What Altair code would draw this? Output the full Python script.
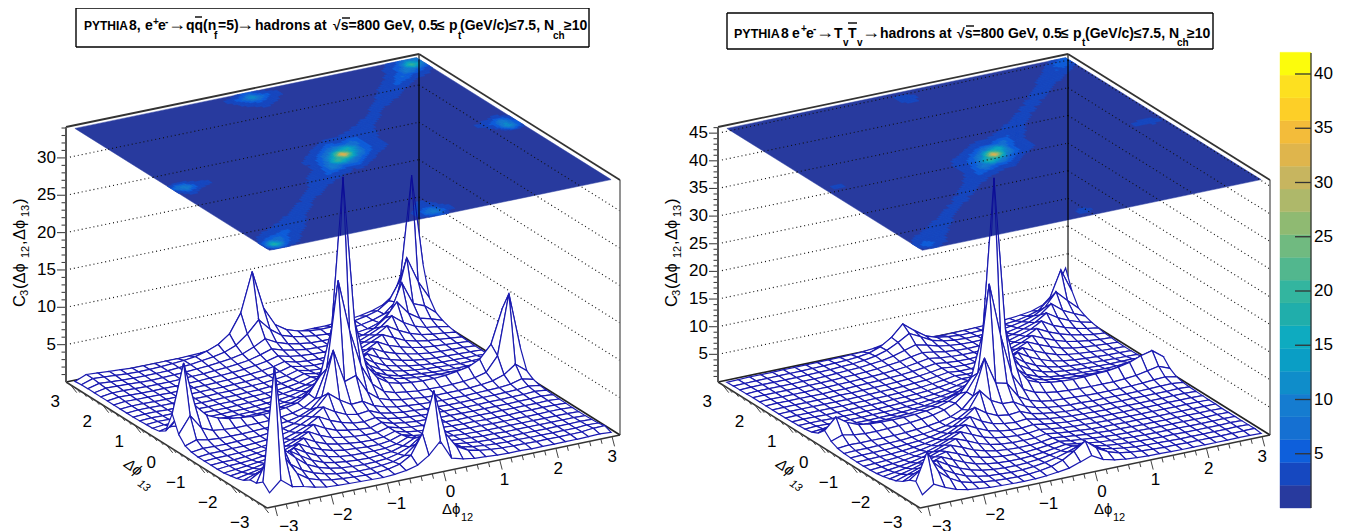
import math
import altair as alt

L_ROWS = [  # from phi13 index 30 (back) to 0 (front), phi12 index 0..30
[.2,.8,.7,.6,.5,.4,.4,.4,.4,.4,.45,.5,.7,1,1.9,4.5,2,1.1,.8,.7,.7,.7,.7,.8,.9,1.1,1.4,1.9,3,7,8],
[.3,.8,.7,.6,.5,.45,.45,.5,.6,.7,.9,1.3,1.9,3,5.5,10.7,5.5,3,2,1.5,1.2,1.1,1.1,1.1,1.3,1.6,2,3,5.5,19.2,7],
[.3,.7,.6,.5,.45,.45,.45,.5,.6,.7,.9,1.1,1.4,2,3.2,4.8,3.2,2.1,1.6,1.3,1.1,1,1,1.1,1.3,1.6,2.1,3.4,9,5.5,3],
[.3,.6,.55,.5,.45,.4,.45,.5,.55,.65,.75,.9,1.1,1.4,2,2.8,2,1.5,1.2,1,.95,.95,1,1.1,1.3,1.8,3,6.5,3.4,2.8,1.6],
[.3,.5,.5,.45,.4,.4,.4,.45,.5,.55,.65,.75,.9,1.1,1.5,2,1.5,1.2,1,.9,.9,.95,1.1,1.3,1.9,3,4.8,3,2,1.6,1.1],
[.3,.5,.45,.4,.4,.4,.4,.4,.45,.5,.55,.65,.75,.95,1.2,1.6,1.2,1,.9,.85,.9,1.1,1.3,1.9,2.6,3.8,2.6,1.8,1.3,1.1,.8],
[.3,.45,.4,.4,.4,.35,.4,.4,.4,.45,.5,.55,.65,.8,1,1.4,1,.85,.8,.85,1,1.3,1.8,2.4,3.3,2.4,1.7,1.2,.95,.8,.6],
[.3,.4,.4,.35,.35,.35,.35,.4,.4,.4,.45,.5,.6,.7,.9,1.3,.95,.8,.85,1,1.2,1.7,2.3,3,2.3,1.6,1.2,.95,.8,.65,.5],
[.3,.4,.4,.35,.35,.35,.35,.35,.4,.4,.45,.5,.55,.7,.9,1.3,.95,.85,.95,1.2,1.6,2.1,2.9,2.1,1.6,1.2,.9,.75,.65,.55,.45],
[.3,.4,.4,.35,.35,.35,.35,.35,.4,.4,.45,.5,.6,.7,.95,1.4,1.1,1,1.2,1.6,2.1,2.9,2.1,1.6,1.2,.9,.7,.6,.55,.5,.4],
[.35,.45,.4,.4,.35,.35,.35,.4,.4,.45,.5,.55,.65,.8,1.05,1.5,1.3,1.3,1.7,2.2,3,2.2,1.6,1.2,.9,.7,.6,.55,.5,.45,.4],
[.4,.5,.45,.4,.4,.4,.4,.4,.45,.5,.55,.6,.75,.95,1.3,1.8,1.7,1.9,2.5,3.4,2.4,1.7,1.3,1,.8,.65,.55,.55,.5,.5,.4],
[.45,.6,.55,.5,.5,.45,.45,.5,.5,.55,.65,.75,.95,1.3,1.8,2.6,2.7,3,4.2,2.9,2,1.5,1.2,1,.85,.75,.65,.6,.65,.7,.5],
[.6,.9,.75,.65,.6,.6,.6,.6,.65,.7,.8,1,1.3,1.8,2.8,5.5,4.5,6.5,3.6,2.5,1.8,1.4,1.2,1.05,.95,.85,.8,.8,.9,1.1,.8],
[1.2,2.6,1.6,1.2,1,.9,.9,.9,.95,1,1.2,1.4,1.9,3,6,10.5,15,6,3.4,2.4,1.9,1.6,1.4,1.3,1.2,1.2,1.2,1.3,1.8,3.5,1.5],
[4,10.5,4.5,2.9,2.2,1.8,1.6,1.45,1.4,1.5,1.7,2,2.9,5,11,31,11.5,5.2,3.2,2.2,1.8,1.6,1.5,1.5,1.6,1.8,2.1,2.8,4.5,9,3.5],
[1.8,4,2,1.4,1.2,1.1,1.1,1.1,1.15,1.3,1.5,1.9,2.8,6.5,18,11,6,3.2,1.9,1.4,1.2,1,.95,.9,.95,1,1.2,1.6,3.5,11.5,4],
[.8,1.3,1,.85,.85,.85,.9,.95,1.1,1.25,1.6,2.2,3.6,9.5,5,5.5,3,1.8,1.3,1,.85,.7,.65,.65,.65,.7,.8,1,1.5,2.6,1.4],
[.5,.7,.65,.65,.7,.75,.8,.95,1.15,1.5,2.2,3,4.6,3.4,2.5,2.6,1.7,1.2,.9,.75,.65,.55,.5,.5,.5,.55,.6,.65,.8,1.2,.8],
[.4,.55,.55,.6,.6,.7,.8,1,1.3,1.9,2.6,3.6,2.7,2,1.7,1.9,1.25,.95,.75,.65,.55,.5,.45,.45,.45,.5,.5,.55,.6,.75,.55],
[.4,.5,.5,.55,.6,.75,.95,1.2,1.7,2.3,3.2,2.4,1.8,1.4,1.25,1.5,1.05,.8,.65,.55,.5,.45,.45,.4,.4,.45,.45,.5,.5,.6,.45],
[.4,.5,.5,.6,.75,.95,1.2,1.6,2.2,3,2.2,1.6,1.3,1.1,1,1.4,.95,.75,.6,.55,.45,.45,.4,.4,.4,.4,.4,.45,.45,.5,.4],
[.4,.55,.6,.7,.9,1.2,1.6,2.2,2.9,2.1,1.5,1.2,1,.9,.9,1.3,.9,.7,.6,.5,.45,.4,.4,.4,.4,.4,.4,.4,.4,.45,.35],
[.45,.6,.75,.95,1.2,1.7,2.2,2.9,2.1,1.5,1.15,.95,.8,.75,.85,1.3,.9,.7,.6,.5,.45,.4,.4,.35,.35,.35,.4,.4,.4,.4,.35],
[.6,.8,1,1.3,1.8,2.2,3,2.2,1.6,1.15,.9,.8,.7,.7,.9,1.4,.95,.75,.6,.5,.45,.4,.4,.35,.35,.35,.35,.35,.4,.4,.3],
[.8,1.1,1.4,1.9,2.4,3.3,2.4,1.7,1.2,.9,.75,.7,.7,.75,1,1.6,1.05,.8,.65,.55,.45,.4,.35,.35,.35,.35,.35,.35,.35,.35,.3],
[1.1,1.6,2.2,2.8,3.8,2.8,1.9,1.3,.95,.75,.65,.6,.7,.85,1.3,2,1.3,.95,.7,.6,.5,.4,.4,.35,.35,.35,.35,.35,.35,.35,.3],
[1.7,2.6,3.5,4.8,3.4,2.2,1.5,1.05,.8,.65,.6,.65,.75,1.1,1.7,2.8,1.8,1.2,.85,.65,.5,.45,.4,.35,.35,.35,.35,.35,.35,.4,.35],
[1.8,5,7,3.4,2.3,1.6,1.15,.85,.7,.6,.6,.7,.9,1.4,2.6,4.5,2.5,1.5,1,.7,.55,.45,.4,.4,.35,.35,.35,.35,.35,.45,.4],
[2.5,17.6,5,2.7,1.7,1.2,.9,.75,.65,.6,.6,.75,1.1,2,4.6,10,4,1.9,1.1,.75,.55,.45,.4,.4,.35,.35,.35,.35,.4,.55,.6],
[1.6,3,1.8,1.5,1.1,.8,.7,.65,.6,.55,.5,.6,.8,1.2,2.2,3.8,1.2,.8,.55,.45,.35,.3,.3,.25,.25,.25,.25,.25,.3,.35,.25],
]

R_ROWS = [
[.1,.15,.2,.2,.2,.25,.25,.25,.3,.3,.35,.4,.5,.7,1.1,1.8,1.2,.8,.6,.5,.5,.55,.6,.7,.8,1,1.2,1.5,2.2,4,8],
[.15,.2,.25,.25,.3,.3,.3,.35,.4,.45,.55,.7,1,1.7,3,5,3.4,2,1.3,1,.8,.8,.85,.95,1.1,1.3,1.7,2.3,4,8.8,4.5],
[.2,.25,.3,.3,.3,.3,.35,.4,.45,.55,.65,.85,1.2,1.8,2.8,4,3,1.9,1.4,1.1,1,1,1.1,1.2,1.5,1.9,2.5,3.6,6,4,2.2],
[.2,.3,.3,.3,.3,.35,.35,.4,.5,.6,.7,.9,1.1,1.5,2.1,2.7,2.2,1.6,1.3,1.1,1.05,1.1,1.25,1.5,1.9,2.5,3.4,5,3.4,2.4,1.5],
[.25,.3,.3,.3,.3,.35,.4,.4,.5,.55,.65,.8,1,1.25,1.65,2,1.7,1.35,1.15,1.05,1.1,1.25,1.5,1.9,2.5,3.2,4.5,3.2,2.3,1.6,1.1],
[.25,.3,.3,.3,.3,.35,.35,.4,.45,.5,.6,.7,.85,1.05,1.35,1.7,1.4,1.2,1.1,1.1,1.25,1.5,1.9,2.5,3.1,4.2,3,2.2,1.6,1.15,.85],
[.25,.3,.3,.3,.3,.3,.35,.35,.4,.5,.55,.65,.75,.95,1.2,1.5,1.25,1.1,1.05,1.2,1.45,1.85,2.4,3,4,3,2.2,1.6,1.15,.85,.65],
[.25,.3,.3,.3,.3,.3,.35,.35,.4,.45,.5,.6,.7,.85,1.1,1.4,1.2,1.1,1.2,1.4,1.8,2.3,3,3.9,3,2.2,1.55,1.15,.85,.65,.55],
[.25,.3,.3,.3,.3,.3,.3,.35,.4,.45,.5,.55,.7,.85,1.1,1.4,1.2,1.2,1.4,1.8,2.3,3,3.9,3,2.2,1.5,1.1,.85,.7,.55,.45],
[.25,.3,.3,.3,.3,.3,.35,.35,.4,.45,.5,.6,.7,.9,1.15,1.5,1.35,1.45,1.85,2.4,3.1,4,3,2.2,1.5,1.1,.85,.7,.55,.45,.4],
[.3,.35,.35,.3,.3,.35,.35,.4,.4,.5,.55,.65,.8,1,1.3,1.7,1.65,1.9,2.5,3.2,4.3,3.1,2.2,1.5,1.1,.85,.7,.6,.5,.45,.4],
[.35,.4,.4,.35,.35,.35,.4,.4,.45,.55,.65,.75,.95,1.2,1.6,2.1,2.2,2.7,3.4,4.8,3.3,2.3,1.6,1.2,.95,.8,.7,.6,.55,.5,.45],
[.45,.55,.5,.45,.45,.45,.5,.55,.6,.7,.8,1,1.25,1.6,2.2,3,3.3,4,6,3.9,2.7,1.9,1.45,1.2,1,.9,.8,.75,.8,.8,.6],
[.65,.8,.7,.65,.65,.65,.7,.75,.85,1,1.15,1.45,1.8,2.4,3.4,5.5,5.5,9.5,4.6,3,2.2,1.7,1.45,1.3,1.2,1.1,1.05,1.1,1.3,1.4,.95],
[1.2,2,1.4,1.1,1.05,1.05,1.1,1.2,1.3,1.5,1.8,2.2,2.9,4,7,14,20,6.5,4,2.9,2.3,2,1.8,1.7,1.6,1.6,1.6,1.9,2.5,3,1.7],
[2.4,4.4,3,2.2,1.9,1.8,1.75,1.8,1.9,2.1,2.4,3,4,6.5,14,41.7,14,6.5,3.8,3,2.6,2.4,2.3,2.3,2.4,2.5,2.8,3.2,4,4.5,3],
[1.2,1.9,1.5,1.3,1.3,1.35,1.45,1.6,1.8,2.1,2.6,3.4,5,8,23.7,14,6.5,3.4,2.4,1.9,1.6,1.45,1.35,1.3,1.3,1.3,1.4,1.6,2,2.4,1.6],
[.65,.85,.8,.8,.8,.85,.95,1.1,1.3,1.6,2.1,3,5,11.4,6.5,6,3.2,2.1,1.5,1.2,1.05,.95,.85,.8,.8,.8,.85,.95,1.1,1.2,.85],
[.45,.55,.55,.6,.65,.7,.85,1,1.25,1.65,2.4,3.6,6.7,4.5,3.5,3.4,2.2,1.5,1.1,.9,.75,.7,.6,.6,.6,.6,.6,.65,.7,.75,.55],
[.4,.45,.5,.55,.6,.75,.9,1.15,1.6,2.2,3.3,4.8,3.4,2.5,2.2,2.4,1.6,1.2,.9,.7,.6,.55,.5,.5,.5,.5,.5,.5,.5,.55,.45],
[.35,.45,.5,.55,.7,.9,1.15,1.55,2.1,3.1,4.3,3.1,2.2,1.8,1.6,1.8,1.3,1,.8,.65,.55,.5,.45,.45,.4,.4,.4,.4,.45,.45,.4],
[.35,.45,.55,.7,.9,1.15,1.55,2.1,3,4,3,2.1,1.6,1.35,1.3,1.5,1.15,.9,.7,.6,.5,.45,.4,.4,.4,.35,.35,.4,.4,.4,.35],
[.4,.55,.7,.9,1.2,1.6,2.2,3,3.9,3,2.1,1.55,1.25,1.1,1.1,1.35,1.05,.8,.65,.55,.45,.4,.4,.35,.35,.35,.35,.35,.35,.35,.3],
[.5,.7,.95,1.25,1.7,2.3,3.1,3.8,3,2.1,1.5,1.15,1,.95,1,1.3,1,.8,.65,.5,.45,.4,.35,.35,.3,.3,.3,.3,.3,.3,.3],
[.7,1,1.35,1.85,2.5,3.2,3.8,3,2.1,1.5,1.1,.9,.8,.85,1,1.3,1.05,.85,.65,.55,.45,.4,.35,.3,.3,.3,.3,.3,.3,.3,.25],
[1,1.45,1.95,2.6,3.3,3.8,3,2.1,1.5,1.1,.85,.75,.75,.9,1.1,1.4,1.1,.9,.7,.55,.45,.4,.35,.3,.3,.3,.3,.25,.25,.3,.25],
[1.4,2.1,2.8,3.4,4,3.1,2.2,1.5,1.05,.8,.7,.7,.8,1,1.3,1.6,1.3,1,.75,.6,.5,.4,.35,.3,.3,.3,.25,.25,.25,.3,.25],
[2,3,3.8,4.5,3.3,2.3,1.55,1.05,.8,.65,.6,.7,.9,1.25,1.6,2,1.6,1.2,.85,.65,.5,.4,.35,.3,.3,.25,.25,.25,.25,.3,.25],
[3,4.4,5.5,3.6,2.5,1.6,1.1,.8,.65,.55,.6,.75,1.05,1.5,2.1,2.8,2.1,1.45,1,.7,.5,.4,.35,.3,.25,.25,.25,.25,.25,.3,.25],
[3.5,8.4,4.4,2.8,1.7,1.15,.85,.65,.55,.5,.55,.75,1.1,1.8,3,4.4,2.7,1.6,1,.7,.5,.4,.3,.3,.25,.25,.25,.25,.25,.3,.3],
[1.8,3.3,2.3,1.5,1.05,.8,.6,.5,.45,.4,.45,.55,.8,1.1,1.8,2.5,1.4,.9,.6,.45,.35,.3,.25,.2,.2,.2,.2,.2,.2,.2,.15],
]

PALETTE = ["#283a9e","#1648c0","#0e5fdb","#1570d2","#157cd0","#0f8dca","#0a9ec5","#0eabc0",
           "#20aeab","#33b59f","#52b78e","#70ba80","#8fba72","#aeb86a","#c7b55f","#dfb54c",
           "#f3bc3a","#fdcf27","#fde020","#fcfc0c"]
BAR_TICKS = [5, 10, 15, 20, 25, 30, 35, 40]
PHI_TICKS = [-3, -2, -1, 0, 1, 2, 3]
LINE = "#1a1ab0"
TIP = "#0a0a96"
FONT = "Liberation Sans"
PHI = "\u03d5"
N = 31
STEP = 2 * math.pi / N


def nodes(k):
    return -math.pi + (k + .5) * STEP


class Panel:
    def __init__(self, xl, xf, xr, yl, yf, yr, pxz, zcol, off, major):
        self.xl, self.xf, self.xr, self.yl, self.yf, self.yr = xl, xf, xr, yl, yf, yr
        self.xb, self.yb = xl + xr - xf, yl + yr - yf
        self.cx, self.cy = (xl + xr) / 2, (yl + yr) / 2
        t = 2 * math.pi
        self.e1 = ((self.xb - xl) / t, (self.yb - yl) / t)
        self.e2 = ((self.xb - xr) / t, (self.yb - yr) / t)
        self.pxz, self.zcol, self.off, self.major = pxz, zcol, off, major
        self.toppx = 255

    def p(self, a, b, z=0.0):
        return (self.cx + self.e1[0] * a + self.e2[0] * b,
                self.cy + self.e1[1] * a + self.e2[1] * b - self.pxz * z)

    def top(self, a, b):
        x, y = self.p(a, b)
        return (x, y - self.toppx + .5)


def poly(pts, **props):
    ring = [[round(x, 1), round(y, 1)] for x, y in pts]
    ring.append(ring[0])
    return {"type": "Feature", "geometry": {"type": "Polygon", "coordinates": [ring]}, "properties": props}


IDENT = dict(type="identity", scale=1, translate=[-8, -8])
SX = alt.Scale(domain=[8, 1353], nice=False, zero=False)
SY = alt.Scale(domain=[531, 8], nice=False, zero=False)


def rules(rows, color="#000", width=1.0, dash=None):
    kw = dict(color=color, strokeWidth=width)
    if dash:
        kw["strokeDash"] = dash
    return alt.Chart(alt.Data(values=rows)).mark_rule(**kw).encode(
        x=alt.X("x:Q", scale=SX, axis=None), y=alt.Y("y:Q", scale=SY, axis=None),
        x2="x2:Q", y2="y2:Q")


def seg(a, b):
    return {"x": round(a[0], 2), "y": round(a[1], 2), "x2": round(b[0], 2), "y2": round(b[1], 2)}


def texts(rows, align="left", baseline="alphabetic", weight="normal", style="normal"):
    return alt.Chart(alt.Data(values=rows)).mark_text(
        align=align, baseline=baseline, font=FONT, fontWeight=weight, fontStyle=style, color="#000").encode(
        x=alt.X("x:Q", scale=SX, axis=None), y=alt.Y("y:Q", scale=SY, axis=None),
        text="t:N", size=alt.Size("s:Q", scale=None, legend=None), angle=alt.Angle("a:Q", scale=None))


def T(t, x, y, s, a=0):
    return {"t": t, "x": x, "y": y, "s": s, "a": a}


def clip(a, b, ring):
    t0, t1 = 0.0, 1.0
    dx, dy = b[0] - a[0], b[1] - a[1]
    n = len(ring)
    area = sum(ring[i][0] * ring[(i + 1) % n][1] - ring[(i + 1) % n][0] * ring[i][1] for i in range(n))
    sgn = 1 if area > 0 else -1
    for i in range(n):
        p, q = ring[i], ring[(i + 1) % n]
        ex, ey = q[0] - p[0], q[1] - p[1]
        f0 = sgn * (ex * (a[1] - p[1]) - ey * (a[0] - p[0]))
        d = sgn * (ex * dy - ey * dx)
        if abs(d) < 1e-9:
            if f0 < 0:
                return None
        else:
            t = -f0 / d
            if d > 0:
                t0 = max(t0, t)
            else:
                t1 = min(t1, t)
            if t0 >= t1:
                return None
    return ((a[0] + t0 * dx, a[1] + t0 * dy), (a[0] + t1 * dx, a[1] + t1 * dy))


def band(z, P):
    return max(0, min(19, int((z - P.off) / (P.zcol / 20))))


def panel_layers(P, rows):
    Z = {}
    for r, row in enumerate(rows):
        for i, v in enumerate(row[:N]):
            Z[(i, N - 1 - r)] = v
    L = []
    xl, yl, xb, yb, xr, yr, xf, yf = P.xl, P.yl, P.xb, P.yb, P.xr, P.yr, P.xf, P.yf
    h = P.toppx
    grid = []
    for z in P.major:
        dy = P.pxz * z
        grid.append(seg((xl, yl - dy), (xb, yb - dy)))
        grid.append(seg((xb, yb - dy), (xr, yr - dy)))
    L.append(rules(grid, "#111", 1.15, [1, 3]))
    L.append(rules([seg((xb, yb), (xb, yb - h))], "#111", 1.2))
    L.append(rules([seg((xr, yr), (xr, yr - h))], "#777", 1.6))
    L.append(rules([seg((xl, yl), (xb, yb)), seg((xb, yb), (xr, yr))], "#222", 1.6))
    L.append(rules([seg((xl, yl - h), (xb, yb - h)), seg((xb, yb - h), (xr, yr - h))], "#333", 1.8))
    cells = []
    for j in range(N - 2, -1, -1):
        for i in range(N - 2, -1, -1):
            cells.append(poly([P.p(nodes(a), nodes(b), Z[(a, b)]) for a, b in
                               [(i, j), (i + 1, j), (i + 1, j + 1), (i, j + 1)]]))
    L.append(alt.Chart(alt.Data(values=cells)).mark_geoshape(
        fill="white", stroke=LINE, strokeWidth=1.2).project(**IDENT))
    L.append(rules([seg((xl, yl), (xf, yf)), seg((xf, yf), (xr, yr))], "#333", 1.5))
    a0, a1 = nodes(0), nodes(N - 1)
    ring = [P.top(a0, a1), P.top(a1, a1), P.top(a1, a0), P.top(a0, a0)]
    shapes = [poly(ring, c=PALETTE[0])]
    for j in range(N - 1):
        for i in range(N - 1):
            v = [Z[(i, j)], Z[(i + 1, j)], Z[(i + 1, j + 1)], Z[(i, j + 1)]]
            if band(max(v), P) == 0:
                continue
            n = 6 if max(v) > P.zcol / 3 else (4 if max(v) > P.zcol / 8 else 3)
            for u in range(n):
                for w in range(n):
                    fu, fw = (u + .5) / n, (w + .5) / n
                    val = (v[0] * (1 - fu) * (1 - fw) + v[1] * fu * (1 - fw) + v[2] * fu * fw + v[3] * (1 - fu) * fw)
                    k = band(val, P)
                    if k == 0:
                        continue
                    pts = [P.top(nodes(i) + STEP * (u + du) / n, nodes(j) + STEP * (w + dw) / n)
                           for du, dw in [(0, 0), (1, 0), (1, 1), (0, 1)]]
                    shapes.append(poly(pts, c=PALETTE[k]))
    L.append(alt.Chart(alt.Data(values=shapes)).mark_geoshape(strokeWidth=.5).encode(
        fill=alt.Fill("properties.c:N", scale=None),
        stroke=alt.Stroke("properties.c:N", scale=None)).project(**IDENT))
    over = []
    for g in grid:
        c = clip((g["x"], g["y"]), (g["x2"], g["y2"]), ring)
        if c:
            over.append(seg(*c))
    L.append(rules(over, "#111", 1.1, [1, 3]))
    c = clip((xb, yb), (xb, yb - h), ring)
    L.append(rules([seg(*c)], "#000", 1.2))
    tips = []
    for j in range(N):
        for i in range(N):
            a = P.p(nodes(i), nodes(j), Z[(i, j)])
            for di, dj in [(1, 0), (0, 1)]:
                if i + di < N and j + dj < N:
                    b = P.p(nodes(i + di), nodes(j + dj), Z[(i + di, j + dj)])
                    c = clip(a, b, ring)
                    if c:
                        tips.append(seg(*c))
    if tips:
        L.append(rules(tips, TIP, .9))
    ticks = []
    k = 1
    while k * P.pxz < h:
        y = yl - k * P.pxz
        ticks.append(seg((xl - (9 if k % 5 == 0 else 4.5), y), (xl, y)))
        k += 1
    L.append(rules(ticks, "#444", 1.1))
    L.append(rules([seg((xl, yl), (xl, yl - h))], "#555", 2))
    L.append(texts([T(str(z), xl - 10, yl - P.pxz * z, 17) for z in P.major], align="right", baseline="middle"))
    tk = []
    for m in range(-15, 16):
        v = m / 5
        ln = 10 if m % 5 == 0 else 5
        a = P.p(v, -math.pi)
        tk.append(seg(a, (a[0] + .25 * ln, a[1] + .97 * ln)))
        a = P.p(-math.pi, v)
        tk.append(seg(a, (a[0] + .62 * ln, a[1] + .78 * ln)))
    L.append(rules(tk, "#444", 1.0))
    lab1, lab2 = [], []
    for v in PHI_TICKS:
        s = str(v).replace("-", "\u2212")
        a = P.p(v, -math.pi)
        lab1.append(T(s, a[0] + 7 - 2.3 * v, a[1] + 20.5, 17))
        a = P.p(-math.pi, v)
        lab2.append(T(s, a[0] - (13 if v < 0 else 10.5), a[1] + 17.5, 17))
    L.append(texts(lab1, align="center", baseline="middle"))
    L.append(texts(lab2, align="right", baseline="middle"))
    o = xl - 66
    L.append(texts([T("\u0394" + PHI, 442 + o, 514, 15), T("12", 461 + o, 521, 11)]))
    L.append(texts([T("\u0394" + PHI, 123 + o, 466, 15, 35), T("13", 137 + o, 485, 11, 35)], style="italic"))
    return L


def ytitle(x):
    return texts([T("C", x, 307, 16.5, 270), T("3", x + 3, 296, 11, 270), T("(\u0394" + PHI, x, 289, 16.5, 270),
                  T("12", x + 4, 258, 11, 270), T(",", x, 245, 16.5, 270), T("\u0394" + PHI, x, 240, 16.5, 270),
                  T("13", x + 4, 217, 11, 270), T(")", x, 204, 16.5, 270)])


PL = Panel(66, 267, 620, 382, 508, 435, 7.47, 34, .7, [5, 10, 15, 20, 25, 30])
PR = Panel(718, 920, 1270, 382, 508, 435, 5.53, 46, 1.0, [5, 10, 15, 20, 25, 30, 35, 40, 45])

layers = panel_layers(PL, L_ROWS) + panel_layers(PR, R_ROWS)
layers.append(ytitle(25))
layers.append(ytitle(677))


def box(x0, x1, y0, y1):
    return rules([seg((x0, y0), (x1, y0)), seg((x1, y0), (x1, y1)), seg((x1, y1), (x0, y1)), seg((x0, y1), (x0, y0))], "#000", 1.4)


layers.append(box(76, 589, 8, 47))
layers.append(box(727, 1213, 13, 49))
BS, SS, AR = 14, 10, 18
by, sb, sp = 30, 39, 25
layers.append(texts([
    T("PYTHIA", 84, by, 12), T("8,", 129, by, BS), T("e", 145, by, BS), T("+", 153, sp, SS), T("e", 158, by, BS),
    T("-", 165, sp, SS), T("\u2192", 168, by, AR), T("qq", 186, by, BS), T("(n", 203, by, BS), T("f", 214, sb, SS),
    T("=5)", 218, by, BS), T("\u2192", 236, by, AR), T("hadrons at", 255, by, BS), T("\u221as=800 GeV, 0.5", 333, by, BS),
    T("\u2264", 437, by, BS), T("p", 449, by, BS), T("t", 458, sb, SS), T("(GeV/c)\u22647.5, N", 460, by, BS),
    T("ch", 553, sb, SS), T("\u226510", 564, by, BS)], weight="bold"))
by, sb, sp = 38, 46, 32
layers.append(texts([
    T("PYTHIA", 734, by, 12.5), T("8", 781, by, BS), T("e", 792, by, BS), T("+", 801, sp, SS), T("e", 806, by, BS),
    T("-", 813, sp, SS), T("\u2192", 816, by, AR), T("T", 834, by, BS), T("v", 843, sb, SS), T("T", 848, by, BS),
    T("v", 857, sb, SS), T("\u2192", 862, by, AR), T("hadrons at", 880, by, BS), T("\u221as=800 GeV, 0.5", 957, by, BS),
    T("\u2264", 1061, by, BS), T("p", 1073, by, BS), T("t", 1082, sb, SS), T("(GeV/c)\u22647.5, N", 1085, by, BS),
    T("ch", 1177, sb, SS), T("\u226510", 1187, by, BS)], weight="bold"))
layers.append(rules([seg((195, 17), (202, 17)), seg((848, 23), (857, 23)), seg((342, 18), (350, 18)), seg((966, 26), (974, 26))], "#000", 1.4))

ZB = lambda z: 508 - z * 10.85
bar = [{"x": 1280, "x2": 1311, "y": ZB(2.1 * k), "y2": ZB(2.1 * (k + 1)), "c": PALETTE[k]} for k in range(20)]
layers.append(alt.Chart(alt.Data(values=bar)).mark_rect(strokeWidth=.4).encode(
    x=alt.X("x:Q", scale=SX, axis=None), x2="x2:Q", y=alt.Y("y:Q", scale=SY, axis=None), y2="y2:Q",
    fill=alt.Fill("c:N", scale=None), stroke=alt.Stroke("c:N", scale=None)))
layers.append(rules([seg((1295, ZB(v)), (1311, ZB(v))) for v in BAR_TICKS] + [seg((1311, 53), (1311, 508))], "#333", 1.3))
layers.append(texts([T(str(v), 1314, ZB(v), 17) for v in BAR_TICKS], baseline="middle"))

chart = alt.layer(*layers).properties(width=1345, height=523, padding=0, autosize="none",
                                      background="white").configure_view(stroke=None)
chart.save("out.html", embed_options={"renderer": "svg", "actions": False})
